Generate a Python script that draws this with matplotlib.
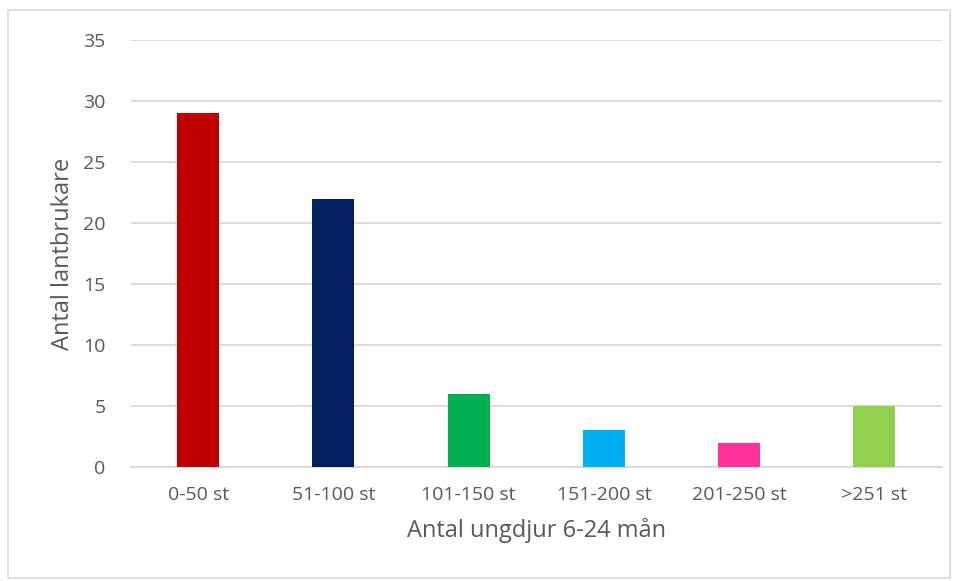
import matplotlib
matplotlib.use("Agg")
import matplotlib.pyplot as plt
from matplotlib.patches import Rectangle

categories = ["0-50 st", "51-100 st", "101-150 st", "151-200 st", "201-250 st", ">251 st"]
values = [29, 22, 6, 3, 2, 5]
colors = ["#C00000", "#002060", "#00B050", "#00B0F0", "#FF3399", "#92D050"]
yticks = [0, 5, 10, 15, 20, 25, 30, 35]

plt.rcParams['font.family'] = ['Open Sans', 'DejaVu Sans']
W, H = 958, 581
fig = plt.figure(figsize=(W/100, H/100), dpi=100)
ax = fig.add_axes([130.5/W, 1-467/H, (942-130.5)/W, (467-40)/H])

x = list(range(len(categories)))
ax.bar(x, values, width=0.31, color=colors, zorder=3)
ax.set_xlim(-0.5, len(categories)-0.5)
ax.set_ylim(0, 35)
ax.set_yticks(yticks)
ax.set_xticks(x)
ax.set_xticklabels(categories)
ax.grid(axis='y', color='#D9D9D9', linewidth=1.3, zorder=0)
for s in ['top', 'right', 'left']:
    ax.spines[s].set_visible(False)
ax.spines['bottom'].set_color('#D9D9D9')
ax.spines['bottom'].set_linewidth(1.3)
ax.tick_params(axis='both', length=0, colors='#595959', labelsize=14)
ax.tick_params(axis='y', pad=18)
ax.tick_params(axis='x', pad=14)
ax.set_ylabel("Antal lantbrukare", fontsize=17, color='#595959', labelpad=6)
ax.set_xlabel("Antal ungdjur 6-24 mån", fontsize=17, color='#595959', labelpad=10)

fig.patches.append(Rectangle((8/W, 1-578/H), (950-8)/W, (578-10)/H, transform=fig.transFigure,
                             fill=False, edgecolor='#D9D9D9', linewidth=1.2))
fig.savefig("out.png", dpi=100)
